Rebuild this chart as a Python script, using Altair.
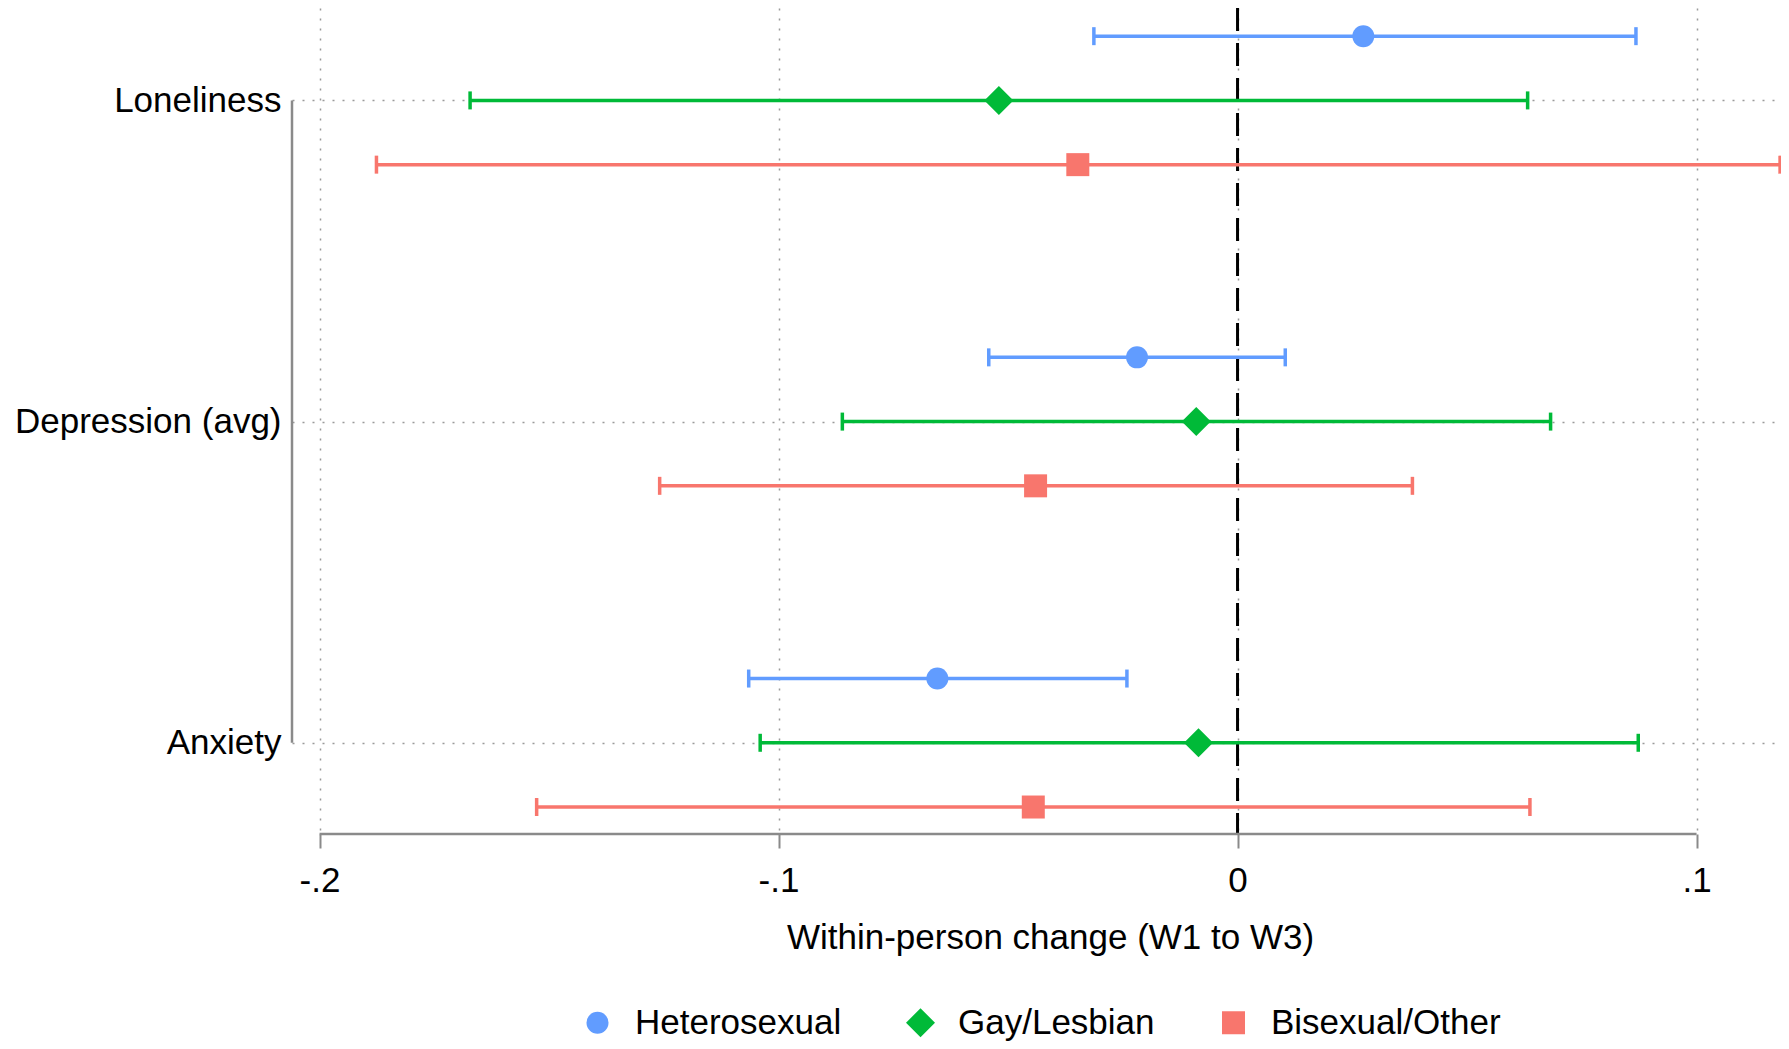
import altair as alt
import pandas as pd

measures = ["Loneliness", "Depression (avg)", "Anxiety"]
groups = ["Heterosexual", "Gay/Lesbian", "Bisexual/Other"]
colors = ["#619CFF", "#00BA38", "#F8766D"]
shapes = ["circle", "diamond", "square"]
marker_sizes = [484, 841, 529]

het_est = [0.0274, -0.0219, -0.0654]
het_lo = [-0.0313, -0.0542, -0.1065]
het_hi = [0.0868, 0.0104, -0.0241]
gay_est = [-0.0520, -0.0090, -0.0085]
gay_lo = [-0.1672, -0.0861, -0.1040]
gay_hi = [0.0632, 0.0682, 0.0873]
bi_est = [-0.0348, -0.0440, -0.0445]
bi_lo = [-0.1876, -0.1259, -0.1527]
bi_hi = [0.1182, 0.0381, 0.0637]

xticks = [-0.2, -0.1, 0.0, 0.1]
xtick_labels = ["-.2", "-.1", "0", ".1"]

# layout of rows: measure k at position (3 - k), groups offset within row
mpos = {m: len(measures) - i for i, m in enumerate(measures)}
goff = {"Heterosexual": 0.2, "Gay/Lesbian": 0.0, "Bisexual/Other": -0.2}

series = {
    "Heterosexual": (het_est, het_lo, het_hi),
    "Gay/Lesbian": (gay_est, gay_lo, gay_hi),
    "Bisexual/Other": (bi_est, bi_lo, bi_hi),
}
rows = []
for gi, g in enumerate(groups):
    e, lo, hi = series[g]
    for i, m in enumerate(measures):
        rows.append({"measure": m, "group": g, "est": e[i], "lo": lo[i], "hi": hi[i],
                     "ypos": mpos[m] + goff[g]})
df = pd.DataFrame(rows)

XMIN, XMAX = -0.206, 0.1184
YMIN, YMAX = 0.716, 3.2877
FONT = "Liberation Sans"

xscale = alt.Scale(domain=[XMIN, XMAX], nice=False, zero=False)
yscale = alt.Scale(domain=[YMIN, YMAX], nice=False, zero=False)

xlab_expr = " : ".join(
    f"datum.value > {v - 0.001} && datum.value < {v + 0.001} ? '{l}'" for v, l in zip(xticks, xtick_labels)
) + " : ''"
ylab_expr = " : ".join(f"datum.value == {mpos[m]} ? '{m}'" for m in measures) + " : ''"

xaxis = alt.Axis(values=xticks, labelExpr=xlab_expr, title="Within-person change (W1 to W3)",
                 domain=False, tickSize=14, tickWidth=2, tickColor="#8a8a8a",
                 labelFontSize=35, labelFont=FONT, labelColor="black", labelPadding=15,
                 titleFontSize=35, titleFont=FONT, titleFontWeight="normal", titleColor="black",
                 titlePadding=22, titleX=758, titleAlign="center",
                 grid=True, gridDash=[2, 8], gridColor="#9a9a9a", gridWidth=1.5)
yaxis = alt.Axis(values=[mpos[m] for m in measures], labelExpr=ylab_expr, title=None,
                 domain=False, ticks=False, labelFontSize=35, labelFont=FONT, labelColor="black",
                 labelPadding=11, labelLimit=0,
                 grid=True, gridDash=[2, 8], gridColor="#9a9a9a", gridWidth=1.5)

legend = alt.Legend(title=None, orient="none", direction="horizontal",
                    legendX=288, legendY=997, labelFontSize=35, labelFont=FONT,
                    labelColor="black", labelOffset=20, columnPadding=61,
                    labelLimit=0, padding=0, symbolStrokeWidth=0)
color = alt.Color("group:N", scale=alt.Scale(domain=groups, range=colors), legend=legend)
shape = alt.Shape("group:N", scale=alt.Scale(domain=groups, range=shapes), legend=legend)
size = alt.Size("group:N", scale=alt.Scale(type="ordinal", domain=groups, range=marker_sizes),
                legend=legend)

# axis lines (Stata style, spanning first to last tick)
xline_df = pd.DataFrame({"x": [min(xticks)], "x2": [max(xticks)], "y": [YMIN]})
yline_df = pd.DataFrame({"x": [XMIN], "y": [min(mpos.values())], "y2": [max(mpos.values())]})
zero_df = pd.DataFrame({"x": [0.0]})

x_axis_line = alt.Chart(xline_df).mark_rule(color="#8a8a8a", strokeWidth=2.5).encode(
    x=alt.X("x:Q", scale=xscale, axis=xaxis), x2="x2:Q",
    y=alt.Y("y:Q", scale=yscale, axis=yaxis))
y_axis_line = alt.Chart(yline_df).mark_rule(color="#8a8a8a", strokeWidth=2.5).encode(
    x=alt.X("x:Q", scale=xscale, axis=xaxis),
    y=alt.Y("y:Q", scale=yscale, axis=yaxis), y2="y2:Q")
zero_line = alt.Chart(zero_df).mark_rule(color="black", strokeWidth=3, strokeDash=[23, 12]).encode(
    x=alt.X("x:Q", scale=xscale, axis=xaxis))

base = alt.Chart(df)
bars = base.mark_rule(strokeWidth=3.5).encode(
    x=alt.X("lo:Q", scale=xscale, axis=xaxis), x2="hi:Q",
    y=alt.Y("ypos:Q", scale=yscale, axis=yaxis), color=color)
cap_lo = base.mark_tick(orient="vertical", size=18, thickness=3.5, opacity=1).encode(
    x=alt.X("lo:Q", scale=xscale, axis=xaxis),
    y=alt.Y("ypos:Q", scale=yscale, axis=yaxis), color=color)
cap_hi = base.mark_tick(orient="vertical", size=18, thickness=3.5, opacity=1).encode(
    x=alt.X("hi:Q", scale=xscale, axis=xaxis),
    y=alt.Y("ypos:Q", scale=yscale, axis=yaxis), color=color)
points = base.mark_point(filled=True, opacity=1).encode(
    x=alt.X("est:Q", scale=xscale, axis=xaxis),
    y=alt.Y("ypos:Q", scale=yscale, axis=yaxis), color=color, shape=shape, size=size)

chart = alt.layer(zero_line, x_axis_line, y_axis_line, bars, cap_lo, cap_hi, points).properties(
    width=1489, height=826,
    autosize=alt.AutoSizeParams(type="none"),
    padding={"left": 284, "top": 0, "right": 0, "bottom": 207},
).configure(font=FONT, background="white").configure_view(stroke=None, strokeWidth=0)

chart.save("out.html", embed_options={"renderer": "svg", "actions": False})
